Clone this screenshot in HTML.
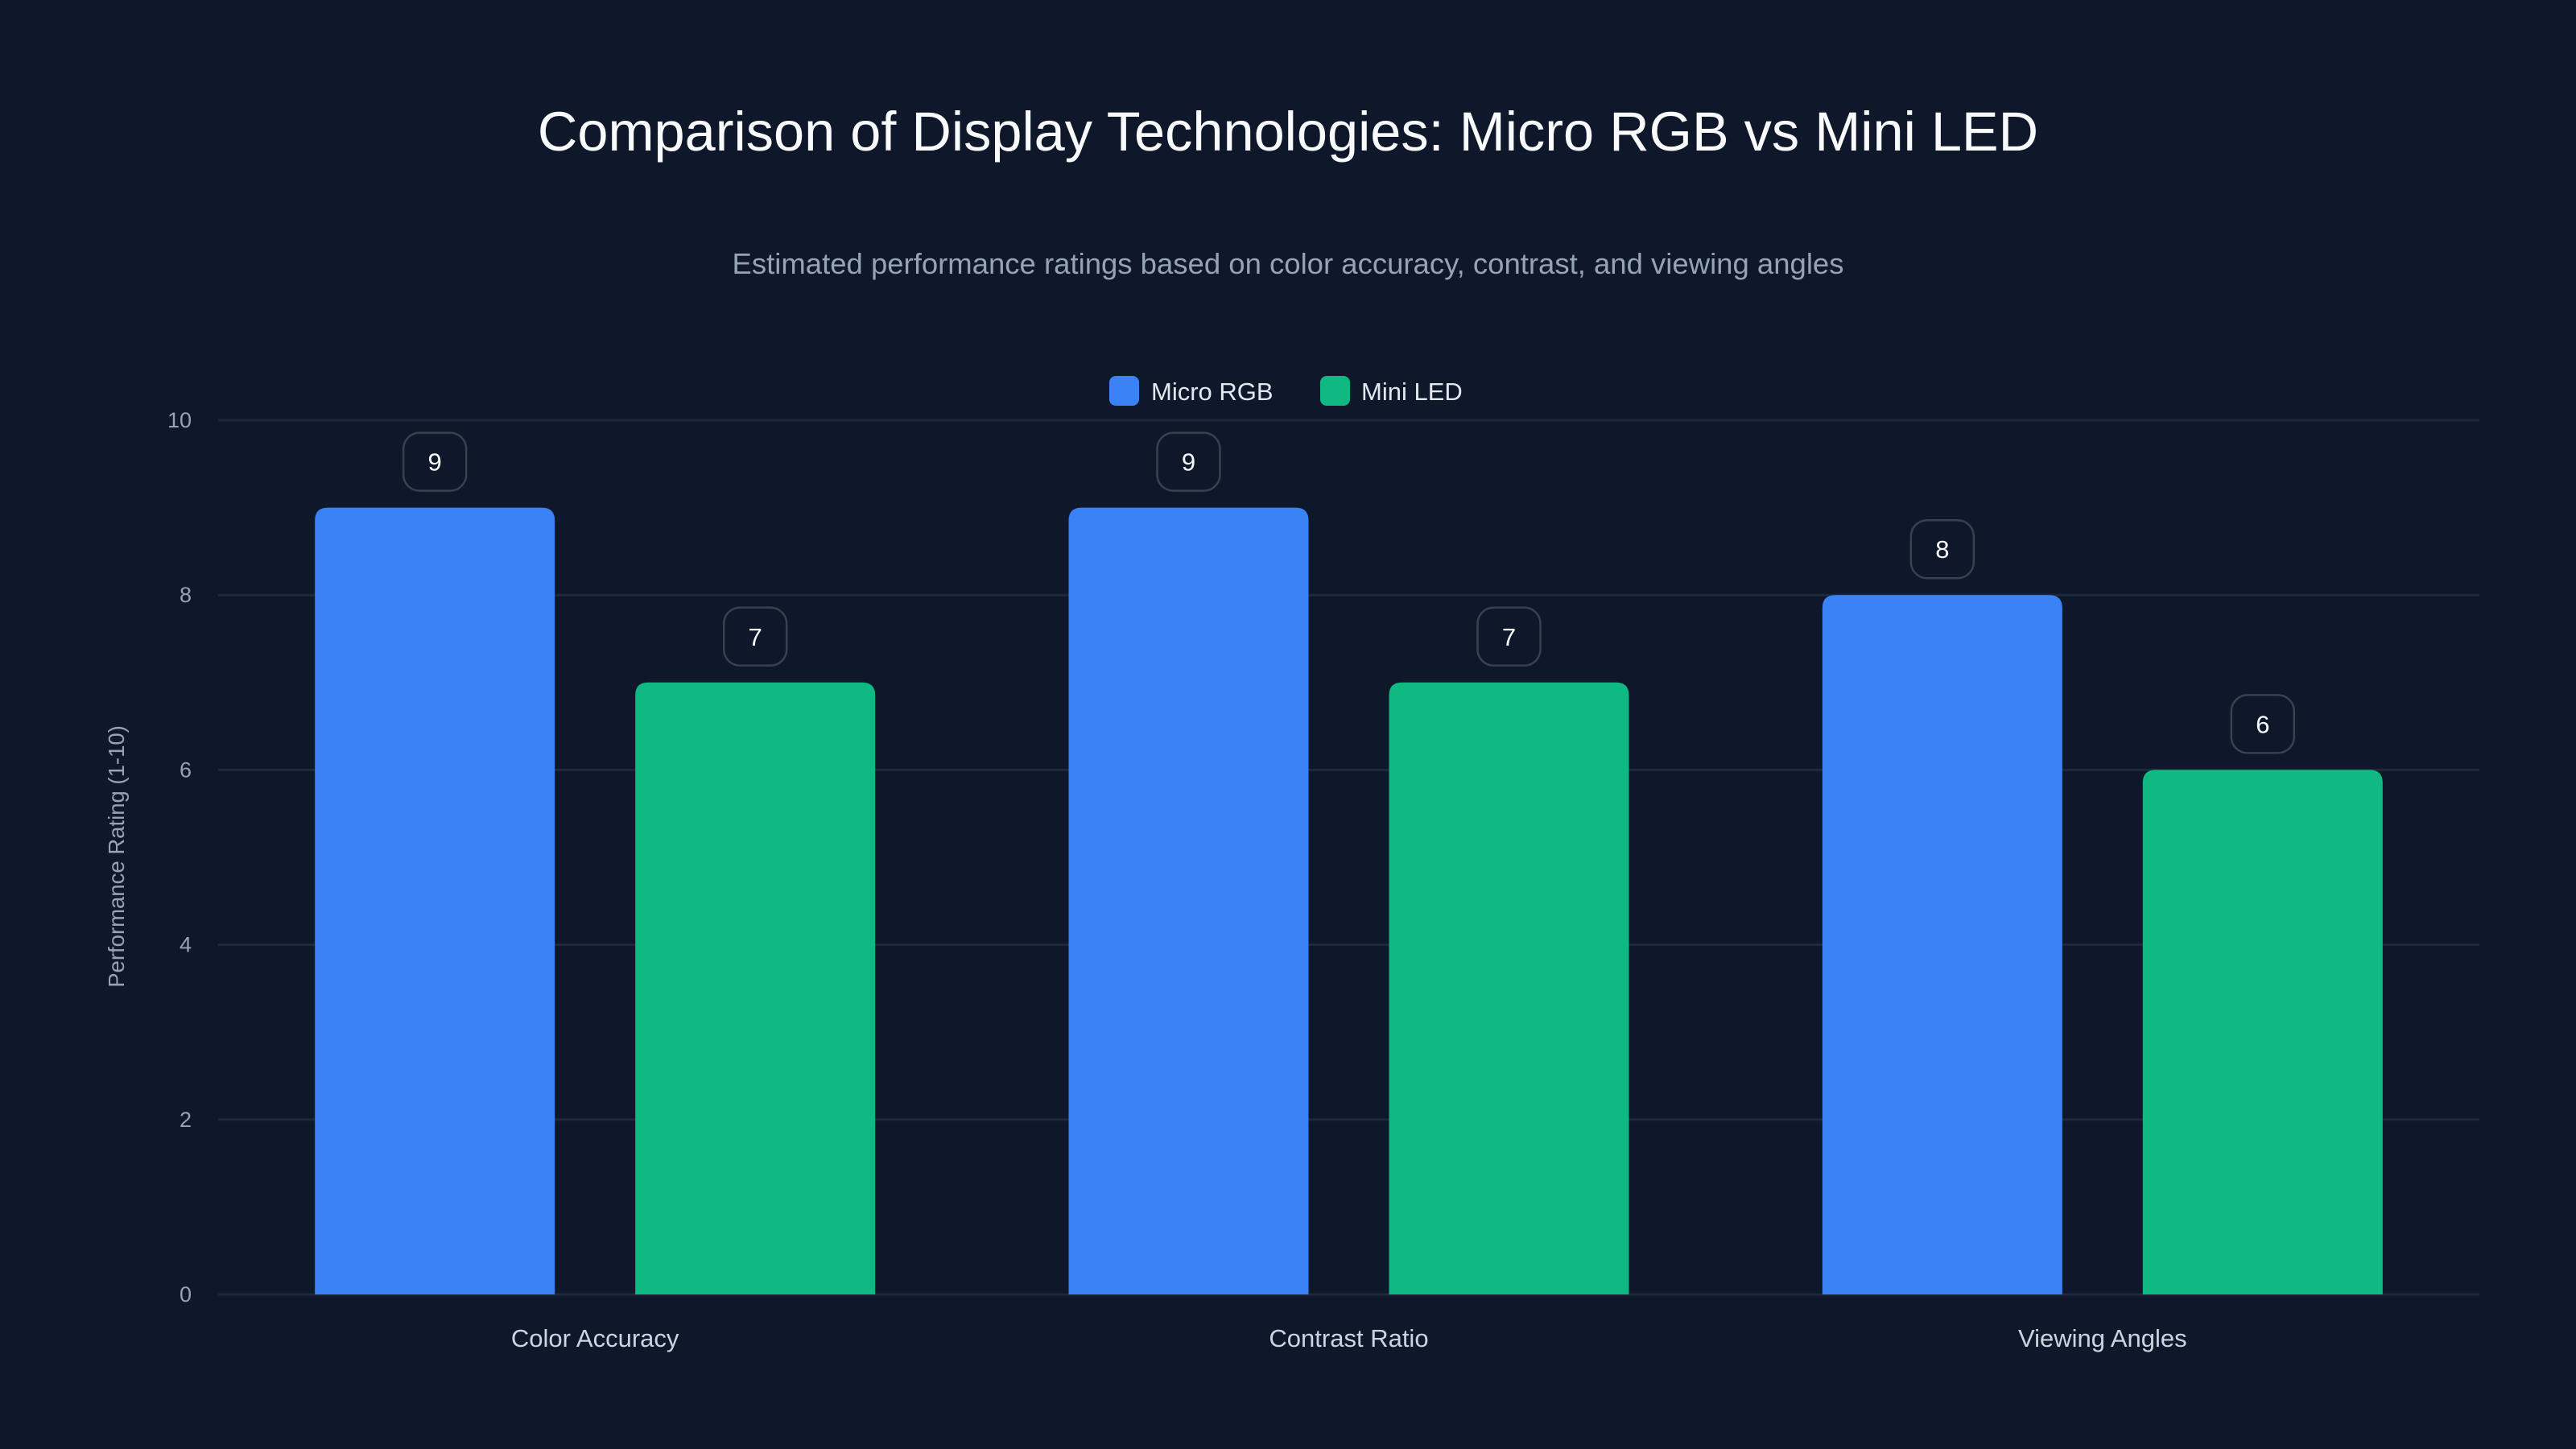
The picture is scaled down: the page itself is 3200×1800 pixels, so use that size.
<!DOCTYPE html>
<html><head><meta charset="utf-8"><style>
html,body{margin:0;padding:0;background:#0f172a;}
svg{display:block;font-family:"Liberation Sans",sans-serif;}
</style></head><body>
<svg id="chart" width="3200" height="1800" viewBox="0 0 3200 1800">
<rect width="3200" height="1800" fill="#0f172a"/>
<text x="1600" y="187" text-anchor="middle" font-size="68.5" fill="#f8fafc">Comparison of Display Technologies: Micro RGB vs Mini LED</text>
<text x="1600" y="340" text-anchor="middle" font-size="36.5" fill="#94a3b8">Estimated performance ratings based on color accuracy, contrast, and viewing angles</text>
<g>
<g><rect x="1378" y="467" width="37" height="37" rx="8" fill="#3b82f6"/><text x="1430" y="497" font-size="31" fill="#e2e8f0">Micro RGB</text></g>
<g><rect x="1640" y="467" width="37" height="37" rx="8" fill="#10b981"/><text x="1691" y="497" font-size="31" fill="#e2e8f0">Mini LED</text></g>
</g>
<text transform="translate(154,1064) rotate(-90)" text-anchor="middle" font-size="27.5" fill="#94a3b8">Performance Rating (1-10)</text>
<g id="grid"></g><g id="bars"></g><g id="labels"></g>
</svg>
<script>
const categories = ["Color Accuracy", "Contrast Ratio", "Viewing Angles"];
const microRGB = [9, 9, 8];
const miniLED = [7, 7, 6];
const yTicks = [0, 2, 4, 6, 8, 10];

const NS = "http://www.w3.org/2000/svg";
const x0 = 271, x1 = 3080, yTop = 522, yBot = 1608, yMax = 10;
const y = v => yBot - (v / yMax) * (yBot - yTop);
const bandW = (x1 - x0) / categories.length;
const xc = i => x0 + bandW * (i + 0.5);
const barW = 298, off = 199;
function mk(tag, attrs, parent, text) {
  const e = document.createElementNS(NS, tag);
  for (const k in attrs) e.setAttribute(k, attrs[k]);
  if (text !== undefined) e.textContent = text;
  parent.appendChild(e);
  return e;
}
const grid = document.getElementById("grid"), bars = document.getElementById("bars"), labels = document.getElementById("labels");
yTicks.forEach(t => {
  const l = mk("line", {x1: x0, x2: x1, y1: y(t), y2: y(t), stroke: "#1e293b", "stroke-width": 3}, grid);
  
  
  const tx = mk("text", {x: 238, y: y(t) + 9, "text-anchor": "end", "font-size": 27, fill: "#94a3b8"}, grid, String(t));
  
  
});
function bar(cx, v, color, name) {
  const top = y(v), r = 16;
  const d = `M${cx - barW/2},${yBot} V${top + r} Q${cx - barW/2},${top} ${cx - barW/2 + r},${top} H${cx + barW/2 - r} Q${cx + barW/2},${top} ${cx + barW/2},${top + r} V${yBot} Z`;
  const p = mk("path", {d: d, fill: color}, bars);
  
  
  const bx = mk("rect", {x: cx - 39, y: top - 21 - 72, width: 78, height: 72, rx: 20, fill: "#0f172a", stroke: "#374151", "stroke-width": 2.5}, labels);
  
  
  const t = mk("text", {x: cx, y: top - 21 - 36 + 11, "text-anchor": "middle", "font-size": 31, fill: "#f8fafc"}, labels, String(v));
  
  
}
categories.forEach((c, i) => {
  const slug = c.toLowerCase().replace(/ /g, '-');
  bar(xc(i) - off, microRGB[i], "#3b82f6", 'micro-rgb-' + slug);
  bar(xc(i) + off, miniLED[i], "#10b981", 'mini-led-' + slug);
  const t = mk("text", {x: xc(i), y: 1673, "text-anchor": "middle", "font-size": 31, fill: "#cbd5e1"}, grid, c);
  
  
});
</script>
</body></html>
